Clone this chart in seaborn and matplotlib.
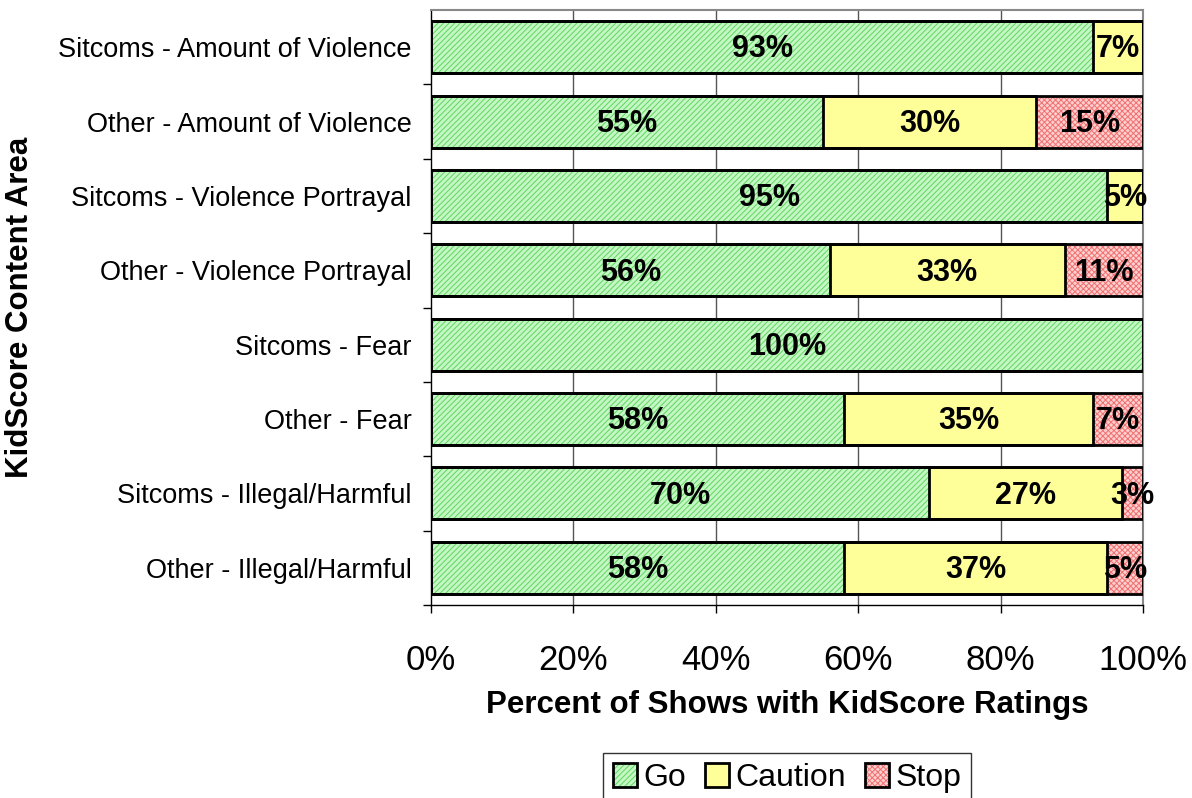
import matplotlib
matplotlib.use("Agg")
import matplotlib.pyplot as plt
import seaborn as sns
import pandas as pd
import numpy as np
from matplotlib.patches import Patch, Rectangle
from matplotlib.legend_handler import HandlerBase

categories = ["Sitcoms - Amount of Violence", "Other - Amount of Violence",
              "Sitcoms - Violence Portrayal", "Other - Violence Portrayal",
              "Sitcoms - Fear", "Other - Fear",
              "Sitcoms - Illegal/Harmful", "Other - Illegal/Harmful"]
go = [93, 55, 95, 56, 100, 58, 70, 58]
caution = [7, 30, 5, 33, 0, 35, 27, 37]
stop = [0, 15, 0, 11, 0, 7, 3, 5]
xticks = [0, 20, 40, 60, 80, 100]

sns.set_theme(style="white")
plt.rcParams["font.family"] = ["Liberation Sans", "DejaVu Sans"]
plt.rcParams["hatch.linewidth"] = 0.7
for k in ["text.color", "axes.labelcolor", "xtick.color", "ytick.color"]:
    plt.rcParams[k] = "black"

df = pd.DataFrame({"cat": categories, "go": go, "caution": caution, "stop": stop})
df["c2"] = df["go"] + df["caution"]
df["c3"] = df["c2"] + df["stop"]

fig = plt.figure(figsize=(11.92, 7.98), dpi=100)
ax = fig.add_axes([431/1192, 1-605/798, (1143-431)/1192, (605-10)/798])

GREEN, GREEN_H = "#c4f7c4", "#5fd65f"
YELLOW = "#ffff99"
PINK, PINK_H = "#ffd0d0", "#f07070"

layers = [("c3", PINK, PINK_H, "xxxxxx"),
          ("c2", YELLOW, None, None),
          ("go", GREEN, GREEN_H, "//////")]
for col, face, hcol, hatch in layers:
    sns.barplot(data=df, x=col, y="cat", orient="h", color=face, ax=ax,
                width=0.7, saturation=1, order=categories, zorder=2)
n0 = 0
for i, (col, face, hcol, hatch) in enumerate(layers):
    bars = ax.patches[n0:n0 + len(categories)]
    n0 += len(categories)
    for b in bars:
        b.set_facecolor(face)
        b.set_linewidth(0)
        if hatch:
            b.set_hatch(hatch)
            b.set_edgecolor(hcol)
        r = Rectangle((b.get_x(), b.get_y()), b.get_width(), b.get_height(),
                      fill=False, edgecolor="black", linewidth=2, zorder=3)
        ax.add_patch(r)

for i in range(len(categories)):
    segs = [(0, go[i]), (go[i], caution[i]), (go[i] + caution[i], stop[i])]
    for start, w in segs:
        if w > 0:
            ax.text(start + w / 2, i + 0.03, f"{w}%", ha="center", va="center",
                    fontsize=22, fontweight="bold", color="black", zorder=5)

ax.set_xlim(0, 100)
ax.set_ylim(len(categories) - 0.5, -0.5)
ax.set_xticks(xticks)
ax.set_xticklabels([f"{t}%" for t in xticks], fontsize=25)
ax.tick_params(axis="x", length=6, bottom=True, direction="out", width=1, color="black", pad=22)
ax.set_yticks(np.arange(len(categories)) + 0.5, minor=True)
ax.tick_params(axis="y", which="minor", length=6, left=True, width=1, color="black")
ax.set_yticks(np.arange(len(categories)))
ax.set_yticklabels(categories, fontsize=19.5)
ax.tick_params(axis="y", which="major", length=0, pad=14)
for x in xticks[1:]:
    ax.axvline(x, color="#555555", linewidth=1, zorder=1)
ax.set_xlabel("Percent of Shows with KidScore Ratings", fontsize=22.5, fontweight="bold")
ax.set_ylabel("KidScore Content Area", fontsize=22.5, fontweight="bold")
ax.xaxis.set_label_coords(0.5, (605-705)/595)
ax.xaxis.label.set_va("center")
ax.yaxis.set_label_coords((20-431)/712, 0.5)
ax.yaxis.label.set_va("center")
for s in ["left", "bottom"]:
    ax.spines[s].set_color("black")
    ax.spines[s].set_linewidth(1)
for s in ["top", "right"]:
    ax.spines[s].set_color("#888888")
    ax.spines[s].set_linewidth(1.5)


class HatchHandler(HandlerBase):
    def create_artists(self, legend, orig, xd, yd, w, h, fs, trans):
        a = Rectangle((-xd, -yd), w, h, facecolor=orig.get_facecolor(),
                      edgecolor=orig.get_edgecolor(), hatch=orig.get_hatch(),
                      linewidth=0, transform=trans)
        b = Rectangle((-xd, -yd), w, h, fill=False, edgecolor="black",
                      linewidth=2, transform=trans)
        return [a, b]


handles = [Patch(facecolor=GREEN, edgecolor=GREEN_H, hatch="//////", label="Go"),
           Patch(facecolor=YELLOW, edgecolor=YELLOW, label="Caution"),
           Patch(facecolor=PINK, edgecolor=PINK_H, hatch="xxxxxx", label="Stop")]
leg = fig.legend(handles=handles, loc="center", bbox_to_anchor=(787/1192, 1-778/798),
                 ncol=3, fontsize=23, frameon=True, fancybox=False, edgecolor="black",
                 handlelength=0.75, handleheight=0.75, handletextpad=0.2, columnspacing=0.6,
                 borderpad=0.3, handler_map={Patch: HatchHandler()})
leg.get_frame().set_linewidth(1)

fig.savefig("out.png", dpi=100)
